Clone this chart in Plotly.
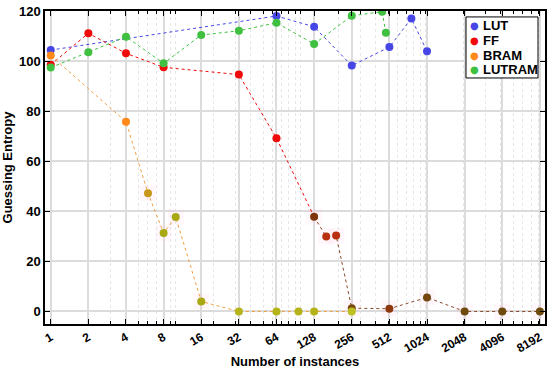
import math
import plotly.graph_objects as go

# ---- data ----
lut_x = [1, 64, 128, 256, 512, 768, 1024]
lut_y = [104.4, 118.0, 113.7, 98.2, 105.6, 117.0, 103.9]

ff_x = [1, 2, 4, 8, 32, 64, 128, 160, 192, 256, 512, 1024, 2048, 4096, 8192]
ff_y = [98.5, 111.1, 103.1, 97.5, 94.6, 69.2, 37.8, 29.9, 30.3, 1.3, 1.1, 5.6, 0.0, 0.0, 0.0]

bram_x = [1, 4, 6, 8, 10, 16, 32, 64, 96, 128, 256]
bram_y = [102.2, 75.8, 47.2, 31.3, 37.7, 4.0, 0.0, 0.0, 0.0, 0.0, 0.0]

lutram_x = [1, 2, 4, 8, 16, 32, 64, 128, 256, 448, 480]
lutram_y = [97.4, 103.5, 109.7, 99.1, 110.4, 112.1, 115.3, 106.8, 118.1, 119.7, 111.3]

series_names = ["LUT", "FF", "BRAM", "LUTRAM"]

x_ticks = [1, 2, 4, 8, 16, 32, 64, 128, 256, 512, 1024, 2048, 4096, 8192]
x_tick_labels = [str(v) for v in x_ticks]
x_minor = [3, 5, 6, 7, 9, 10, 20, 30, 40, 50, 60, 70, 80, 90, 100, 200, 300, 400, 500,
           600, 700, 800, 900, 1000, 2000, 3000, 4000, 5000, 6000, 7000, 8000, 9000]
y_ticks = [0, 20, 40, 60, 80, 100, 120]

# ---- styles ----
BLUE = "#4646e6"
RED = "#f00a0a"
ORANGE = "#ff8a1a"
GREEN = "#40c040"
OLIVE = "#a8a812"
YOLIVE = "#b4b41a"
series_colors = [BLUE, RED, ORANGE, GREEN]

bram_colors = [ORANGE, ORANGE, "#c89818", OLIVE, OLIVE, OLIVE, YOLIVE, YOLIVE, YOLIVE, YOLIVE, "#bcc020"]
ff_colors = [RED] * 6 + ["#80360c", "#b83010", "#b83010", "#7a4a0c", "#8c380c", "#74460e",
                         "#6e4a0c", "#6e4a0c", "#6e4a0c"]
split = 6  # FF line changes tone after this index
MS = 8

FONT = "Liberation Sans"

fig = go.Figure()

# faint pink highlight boxes behind some points
hl_x = ff_x[6:] + bram_x[2:6]
hl_y = ff_y[6:] + bram_y[2:6]
fig.add_trace(go.Scatter(x=hl_x, y=hl_y, mode="markers", showlegend=False, hoverinfo="skip",
                         marker=dict(symbol="square", size=16, color="rgba(255,180,220,0.10)",
                                     line=dict(width=0))))

# connecting dotted lines
fig.add_trace(go.Scatter(x=lut_x, y=lut_y, mode="lines", showlegend=False, hoverinfo="skip",
                         line=dict(color=BLUE, width=1, dash="dot")))
fig.add_trace(go.Scatter(x=ff_x[:split + 1], y=ff_y[:split + 1], mode="lines", showlegend=False,
                         hoverinfo="skip", line=dict(color=RED, width=1, dash="dot")))
fig.add_trace(go.Scatter(x=ff_x[split:], y=ff_y[split:], mode="lines", showlegend=False,
                         hoverinfo="skip", line=dict(color="#8a4a2a", width=1, dash="dot")))
fig.add_trace(go.Scatter(x=bram_x, y=bram_y, mode="lines", showlegend=False, hoverinfo="skip",
                         line=dict(color="#f0a040", width=1, dash="dot")))
fig.add_trace(go.Scatter(x=lutram_x, y=lutram_y, mode="lines", showlegend=False, hoverinfo="skip",
                         line=dict(color=GREEN, width=1, dash="dot")))

# markers
fig.add_trace(go.Scatter(x=lut_x, y=lut_y, name="LUT", mode="markers", showlegend=False,
                         marker=dict(color=BLUE, size=MS)))
fig.add_trace(go.Scatter(x=ff_x, y=ff_y, name="FF", mode="markers", showlegend=False,
                         marker=dict(color=ff_colors, size=MS)))
fig.add_trace(go.Scatter(x=bram_x, y=bram_y, name="BRAM", mode="markers", showlegend=False,
                         marker=dict(color=bram_colors, size=MS)))
fig.add_trace(go.Scatter(x=lutram_x, y=lutram_y, name="LUTRAM", mode="markers", showlegend=False,
                         marker=dict(color=GREEN, size=MS)))

# compact boxed legend (Matlab-like spacing)
L_x0, L_x1, L_y0, L_y1 = 0.842, 0.986, 0.786, 0.981
shapes = [dict(type="rect", xref="paper", yref="paper", x0=L_x0, x1=L_x1, y0=L_y0, y1=L_y1,
               line=dict(color="black", width=1), fillcolor="white", layer="above")]
annotations = []
row_y = [0.953, 0.906, 0.859, 0.812]
for name, col, ry in zip(series_names, series_colors, row_y):
    annotations.append(dict(xref="paper", yref="paper", x=0.858, y=ry, text="●", showarrow=False,
                            xanchor="center", yanchor="middle",
                            font=dict(size=10, color=col, family="DejaVu Sans")))
    annotations.append(dict(xref="paper", yref="paper", x=0.871, y=ry, text=name, showarrow=False,
                            xanchor="left", yanchor="middle",
                            font=dict(size=13, color="black", family=FONT, weight="bold")))

fig.update_layout(
    width=550, height=373,
    margin=dict(l=45, r=5, t=11, b=49, autoexpand=False),
    plot_bgcolor="white", paper_bgcolor="white",
    font=dict(family=FONT, size=12, color="black", weight="bold"),
    showlegend=False,
    shapes=shapes, annotations=annotations,
)

fig.update_xaxes(
    type="log", automargin=False,
    range=[math.log10(0.9), math.log10(9000)],
    tickvals=x_ticks, ticktext=x_tick_labels, tickangle=-30,
    tickfont=dict(size=12, family=FONT, weight="bold"),
    ticks="inside", ticklen=5, tickcolor="black",
    showline=True, linecolor="black", linewidth=1.5, mirror="ticks",
    showgrid=True, gridcolor="#dcdcdc", gridwidth=1.5,
    minor=dict(tickvals=x_minor, ticks="inside", ticklen=3, tickcolor="black",
               showgrid=True, gridcolor="#e6e6e6", gridwidth=1, griddash="dot"),
    title=dict(text="Number of instances", font=dict(size=13, family=FONT, weight="bold"), standoff=3),
    zeroline=False,
)
fig.update_yaxes(
    automargin=False,
    range=[-5, 120],
    tickvals=y_ticks,
    tickfont=dict(size=13, family=FONT, weight="bold"),
    ticks="inside", ticklen=5, tickcolor="black",
    showline=True, linecolor="black", linewidth=1.5, mirror="ticks",
    showgrid=True, gridcolor="#dcdcdc", gridwidth=1.5,
    title=dict(text="Guessing Entropy", font=dict(size=13, family=FONT, weight="bold"), standoff=4),
    zeroline=False,
)

fig.write_html("out.html", config={"displayModeBar": False},
               post_script="document.body.style.margin='0';document.body.style.overflow='hidden';")
